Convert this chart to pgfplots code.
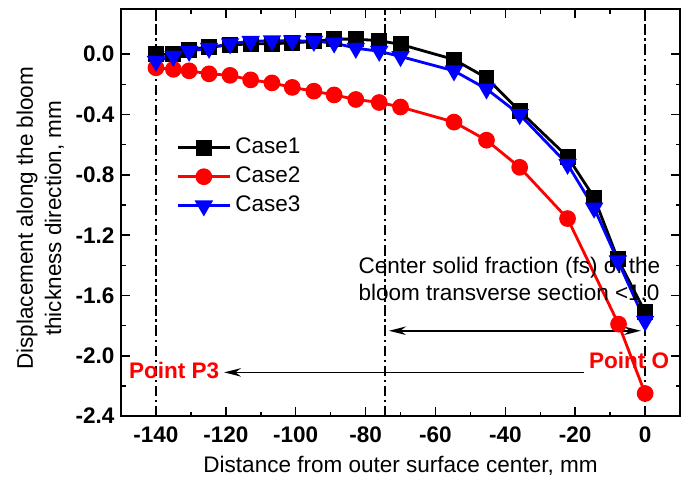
\documentclass[border=0pt]{standalone}
\usepackage{fontspec}
\setmainfont{Liberation Sans}
\usepackage{pgfplots}
\pgfplotsset{compat=1.18}
\usetikzlibrary{arrows.meta}

\begin{document}
\begin{tikzpicture}
\begin{axis}[
  scale only axis, width=298pt, height=217pt,
  xmin=-150, xmax=10, ymin=-2.4, ymax=0.3,
  xtick={-140,-120,-100,-80,-60,-40,-20,0},
  ytick={-2.4,-2.0,-1.6,-1.2,-0.8,-0.4,0.0},
  minor x tick num=1, minor y tick num=1,
  tick align=inside,
  major tick length=4.8pt, minor tick length=2.4pt,
  axis line style={line width=0.8pt},
  every tick/.style={black, line width=0.8pt},
  /pgf/number format/assume math mode=true,
  ticklabel style={font=\fontsize{12}{14}\selectfont\bfseries},
  yticklabel style={/pgf/number format/.cd, fixed, fixed zerofill, precision=1},
  xticklabel style={yshift=-2pt},
  xlabel={Distance from outer surface center, mm},
  ylabel={Displacement along the bloom\\thickness direction, mm},
  every axis x label/.style={at={(axis description cs:0.5,0)}, yshift=-26.7pt, anchor=center,
    font=\fontsize{12}{14.4}\selectfont},
  every axis y label/.style={at={(axis description cs:0,0.5)}, xshift=-43pt, yshift=-3pt, rotate=90, anchor=center,
    align=center, font=\fontsize{12}{15}\selectfont},
  legend style={at={(axis description cs:0.098,0.688)}, anchor=north west, draw=none, fill=none,
    inner sep=0pt, row sep=3.5pt, font=\fontsize{12}{14}\selectfont,
    nodes={inner xsep=2pt, inner ysep=0pt, text height=9pt, text depth=3pt}},
  legend cell align=left,
  legend image code/.code={\draw[mark repeat=2,mark phase=2] plot coordinates {(0pt,0pt)(14pt,0pt)(28pt,0pt)};},
]
% dash-dot guide lines
\addplot[black, line width=0.9pt, dash pattern=on 5.5pt off 2pt on 1.2pt off 2pt, forget plot] coordinates {(-140,-2.4) (-140,0.3)};
\addplot[black, line width=0.9pt, dash pattern=on 5.5pt off 2pt on 1.2pt off 2pt, forget plot] coordinates {(-74.5,-2.4) (-74.5,0.3)};
\addplot[black, line width=0.9pt, dash pattern=on 5.5pt off 2pt on 1.2pt off 2pt, forget plot] coordinates {(0,-2.4) (0,0.3)};

\addplot[black, line width=1.5pt, mark=square*, mark size=3.5pt] coordinates {
(-140,0.0) (-135,0.0) (-130.5,0.03) (-124.8,0.05) (-118.8,0.06) (-112.9,0.07)
(-106.8,0.07) (-101,0.075) (-94.8,0.085) (-89,0.10) (-82.8,0.10) (-76.1,0.09)
(-70,0.065) (-54.7,-0.035) (-45.4,-0.157) (-35.9,-0.377) (-22.2,-0.68)
(-14.6,-0.95) (-7.8,-1.36) (0,-1.71)};
\addlegendentry{Case1}

\addplot[red, line width=1.5pt, mark=*, mark size=3.7pt] coordinates {
(-140,-0.09) (-135,-0.10) (-130.5,-0.11) (-124.8,-0.13) (-118.8,-0.14) (-112.9,-0.17)
(-106.8,-0.19) (-101,-0.22) (-94.8,-0.245) (-89,-0.27) (-82.8,-0.30) (-76.1,-0.32)
(-70,-0.35) (-54.7,-0.45) (-45.4,-0.57) (-35.9,-0.75) (-22.2,-1.09)
(-7.6,-1.79) (0,-2.25)};
\addlegendentry{Case2}

\addplot[blue, line width=1.5pt, mark=triangle*, mark size=4.2pt, mark options={rotate=180}] coordinates {
(-140,-0.046) (-135,-0.013) (-130.5,0.02) (-124.8,0.04) (-118.8,0.07) (-112.9,0.086)
(-106.8,0.09) (-101,0.09) (-94.8,0.086) (-89,0.075) (-82.8,0.04) (-76.1,0.02)
(-70,-0.015) (-54.7,-0.11) (-45.4,-0.23) (-35.9,-0.40) (-22.2,-0.73)
(-14.6,-1.02) (-7.8,-1.37) (0,-1.77)};
\addlegendentry{Case3}

% annotations
\node[anchor=west, align=left, font=\fontsize{12}{14.4}\selectfont] at (axis cs:-83.9,-1.49)
  {Center solid fraction (fs) of the\\bloom transverse section <1.0};
\draw[line width=0.9pt, {Stealth[length=9pt,width=4.5pt]}-{Stealth[length=9pt,width=4.5pt]}]
  (axis cs:-73.3,-1.834) -- (axis cs:-1.2,-1.834);
\draw[line width=0.9pt, -{Stealth[length=9pt,width=4.5pt]}]
  (axis cs:-17.5,-2.11) -- (axis cs:-120.5,-2.11);
\node[red, font=\fontsize{12}{14}\selectfont\bfseries] at (axis cs:-4.6,-2.03) {Point O};
\node[red, font=\fontsize{12}{14}\selectfont\bfseries] at (axis cs:-134.8,-2.10) {Point P3};

\coordinate (SW) at (rel axis cs:0,0);
\coordinate (NE) at (rel axis cs:1,1);
\end{axis}
\pgfresetboundingbox
\path[use as bounding box] ([xshift=-64.5pt,yshift=-34.6pt]SW) rectangle ([xshift=5.3pt,yshift=4.8pt]NE);
\end{tikzpicture}
\end{document}
